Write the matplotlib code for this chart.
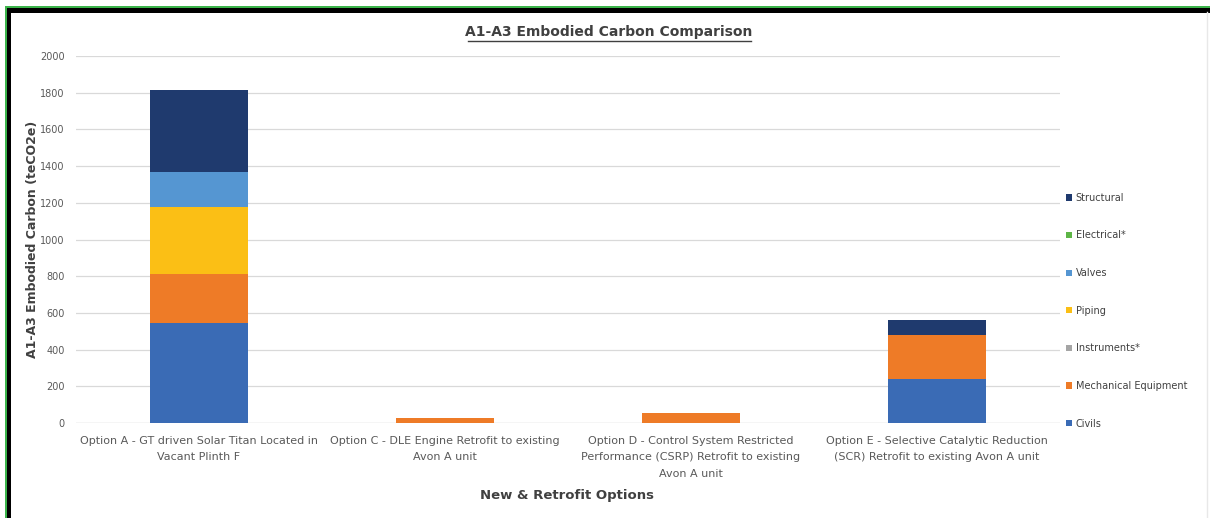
import matplotlib.pyplot as plt
from matplotlib.patches import Patch, Rectangle
from matplotlib.lines import Line2D
import numpy as np

options = ['Option A - GT driven Solar Titan Located in\nVacant Plinth F',
           'Option C - DLE Engine Retrofit to existing\nAvon A unit',
           'Option D - Control System Restricted\nPerformance (CSRP) Retrofit to existing\nAvon A unit',
           'Option E - Selective Catalytic Reduction\n(SCR) Retrofit to existing Avon A unit']

civils = [545, 0, 0, 242]
mechanical = [266, 28, 52, 236]
instruments = [0, 0, 0, 0]
piping = [364, 0, 0, 0]
valves = [194, 0, 0, 0]
electrical = [0, 0, 0, 0]
structural = [446, 0, 0, 82]

series = [('Civils', civils, '#3a6bb5'),
          ('Mechanical Equipment', mechanical, '#ee7b27'),
          ('Instruments*', instruments, '#a5a5a5'),
          ('Piping', piping, '#fbbf15'),
          ('Valves', valves, '#5596d2'),
          ('Electrical*', electrical, '#5db546'),
          ('Structural', structural, '#1f3a6e')]

W, H = 1210, 518
fig = plt.figure(figsize=(W / 100, H / 100), dpi=100)
ax = fig.add_axes([76 / W, 1 - 423 / H, (1060 - 76) / W, (423 - 56) / H])

x = np.arange(len(options))
bottom = np.zeros(len(options))
for name, vals, col in series:
    ax.bar(x, vals, width=0.4, bottom=bottom, color=col, label=name, zorder=3)
    bottom += np.array(vals)

ax.set_xlim(-0.5, 3.5)
ax.set_ylim(0, 2000)
ax.set_yticks(range(0, 2001, 200))
ax.tick_params(axis='y', labelsize=7, colors='#595959', length=0, pad=8)
ax.tick_params(axis='x', length=0, pad=9)
ax.set_xticks(x)
ax.set_xticklabels(options, fontsize=8, color='#595959', linespacing=1.85)
ax.grid(axis='y', color='#d9d9d9', linewidth=0.9, zorder=0)
for s in ax.spines.values():
    s.set_visible(False)
ax.axhline(0, color='#d9d9d9', linewidth=0.9, zorder=1)

ax.set_ylabel('A1-A3 Embodied Carbon (teCO2e)', fontsize=9, fontweight='bold',
              color='#404040', labelpad=1)
fig.text(567 / W, 1 - 496 / H, 'New & Retrofit Options', fontsize=9.5, fontweight='bold',
         color='#404040', ha='center', va='center')
fig.text(609 / W, 1 - 32 / H, 'A1-A3 Embodied Carbon Comparison', fontsize=10,
         fontweight='bold', color='#404040', ha='center', va='center')

# underline under the title
fig.add_artist(Line2D([468 / W, 751 / W], [1 - 40.5 / H, 1 - 40.5 / H], color='#404040',
                      linewidth=1.0, transform=fig.transFigure))

handles = [Patch(facecolor=c, label=n) for n, _, c in series][::-1]
leg = fig.legend(handles=handles, loc='upper left', bbox_to_anchor=(1062 / W, 1 - 189 / H),
                 frameon=False, fontsize=7, handlelength=0.6, handleheight=0.6,
                 handletextpad=0.4, labelspacing=2.84, borderaxespad=0)
for t in leg.get_texts():
    t.set_color('#404040')

# page frame: green outline with black inner border
fig.add_artist(Rectangle((5 / W, 0), 1.5 / W, 1 - 7 / H, transform=fig.transFigure,
                         color='#3cb44b', lw=0))
fig.add_artist(Rectangle((5 / W, 1 - 8 / H), (W - 5) / W, 1.5 / H, transform=fig.transFigure,
                         color='#3cb44b', lw=0))
fig.add_artist(Rectangle((6.5 / W, 0), 4 / W, 1 - 8 / H, transform=fig.transFigure,
                         color='black', lw=0))
fig.add_artist(Rectangle((6.5 / W, 1 - 12.5 / H), (W - 6.5) / W, 4.5 / H,
                         transform=fig.transFigure, color='black', lw=0))
fig.add_artist(Line2D([1207 / W, 1207 / W], [0, 1 - 12 / H], color='#e8e8e8', lw=1,
                      transform=fig.transFigure))

fig.savefig('out.png', dpi=100)
